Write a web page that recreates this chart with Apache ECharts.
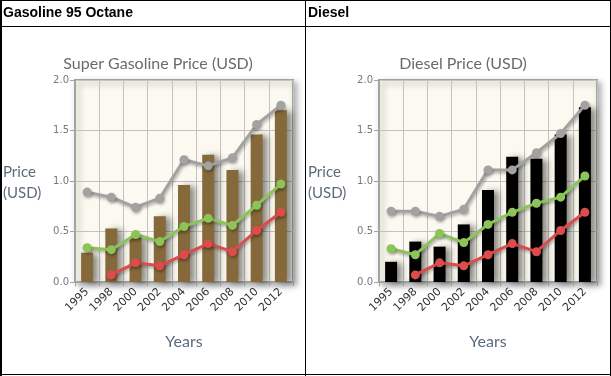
<!DOCTYPE html>
<html>
<head>
<meta charset="utf-8">
<script src="https://cdn.jsdelivr.net/npm/echarts@6/dist/echarts.min.js"></script>
<style>
  html, body { margin: 0; padding: 0; background: #fff; }
  #chart { width: 611px; height: 376px; }
</style>
</head>
<body>
<div id="chart"></div>
<script>
// categories and tick values
var years = ['1995', '1998', '2000', '2002', '2004', '2006', '2008', '2010', '2012'];

// gasoline panel
var gasBars  = [0.29, 0.53, 0.44, 0.65, 0.96, 1.26, 1.11, 1.46, 1.70];
var gasGray  = [0.89, 0.84, 0.74, 0.83, 1.21, 1.15, 1.23, 1.56, 1.75];
var gasGreen = [0.34, 0.32, 0.47, 0.40, 0.55, 0.63, 0.56, 0.76, 0.97];
var gasRed   = [null, 0.07, 0.19, 0.16, 0.27, 0.38, 0.30, 0.51, 0.69];

// diesel panel
var dieBars  = [0.20, 0.40, 0.35, 0.57, 0.91, 1.24, 1.22, 1.46, 1.73];
var dieGray  = [0.70, 0.70, 0.65, 0.72, 1.11, 1.11, 1.28, 1.47, 1.75];
var dieGreen = [0.33, 0.27, 0.48, 0.39, 0.57, 0.69, 0.78, 0.84, 1.05];
var dieRed   = [null, 0.07, 0.19, 0.16, 0.27, 0.38, 0.30, 0.51, 0.69];

var txtFont = 'Lato';

function gridCfg(left) {
  return {
    left: left, top: 80, width: 218, height: 202,
    show: true,
    backgroundColor: '#fcfaf0',
    borderColor: '#a3a3a3',
    borderWidth: 2,
    shadowColor: 'rgba(0,0,0,0.3)',
    shadowBlur: 6,
    shadowOffsetX: 3,
    shadowOffsetY: 3
  }
}

function xAxisCfg(idx) {
  return {
    type: 'category',
    gridIndex: idx,
    data: years,
    boundaryGap: true,
    name: 'Years',
    nameLocation: 'middle',
    nameGap: 52,
    nameTextStyle: { fontFamily: txtFont, fontSize: 16, color: '#5d6b7e' },
    axisLine: { show: true, lineStyle: { color: '#a3a3a3', width: 2 } },
    axisTick: { show: true, length: 4, lineStyle: { color: '#a3a3a3' } },
    axisLabel: { rotate: 45, margin: 8, fontFamily: 'DejaVu Sans', fontSize: 11, color: '#333' },
    splitLine: { show: true, lineStyle: { color: '#c2c2c2', width: 1 } }
  }
}

function yAxisCfg(idx) {
  return {
    type: 'value',
    gridIndex: idx,
    min: 0, max: 2, interval: 0.5,
    axisLine: { show: true, lineStyle: { color: '#a3a3a3', width: 2 } },
    axisTick: { show: true, length: 5, lineStyle: { color: '#a3a3a3' } },
    axisLabel: {
      margin: 6, fontFamily: 'DejaVu Sans', fontSize: 10, color: '#777',
      formatter: function (v) { return v.toFixed(1) }
    },
    splitLine: { show: true, lineStyle: { color: '#c2c2c2', width: 1 } }
  }
}

function barSeries(idx, data, color) {
  return {
    type: 'bar', xAxisIndex: idx, yAxisIndex: idx,
    data: data, barWidth: 12,
    itemStyle: {
      color: color,
      shadowColor: 'rgba(0,0,0,0.45)',
      shadowBlur: 6,
      shadowOffsetX: 5,
      shadowOffsetY: 1
    },
    z: 2
  }
}

function lineSeries(idx, data, color) {
  return {
    type: 'line', xAxisIndex: idx, yAxisIndex: idx,
    data: data,
    symbol: 'circle', symbolSize: 9,
    lineStyle: { color: color, width: 3, shadowColor: 'rgba(0,0,0,0.3)', shadowBlur: 3, shadowOffsetX: 1, shadowOffsetY: 2 },
    itemStyle: { color: color, shadowColor: 'rgba(0,0,0,0.3)', shadowBlur: 3, shadowOffsetX: 1, shadowOffsetY: 2 },
    z: 3
  }
}

var chart = echarts.init(document.getElementById('chart'));

var option = {
  backgroundColor: '#fff',
  animation: false,
  title: [
    { text: 'Super Gasoline Price (USD)', left: 153, top: 51, textAlign: 'center',
      textStyle: { fontFamily: txtFont, fontSize: 16, fontWeight: 'normal', color: '#6b6b6b' } },
    { text: 'Diesel Price (USD)', left: 458, top: 51, textAlign: 'center',
      textStyle: { fontFamily: txtFont, fontSize: 16, fontWeight: 'normal', color: '#6b6b6b' } }
  ],
  grid: [gridCfg(75), gridCfg(379)],
  xAxis: [xAxisCfg(0), xAxisCfg(1)],
  yAxis: [yAxisCfg(0), yAxisCfg(1)],
  series: [
    barSeries(0, gasBars, '#86693a'),
    lineSeries(0, gasGray, '#a2a2a2'),
    lineSeries(0, gasGreen, '#8cc45a'),
    lineSeries(0, gasRed, '#dc4c4c'),
    barSeries(1, dieBars, '#000'),
    lineSeries(1, dieGray, '#a2a2a2'),
    lineSeries(1, dieGreen, '#8cc45a'),
    lineSeries(1, dieRed, '#dc4c4c')
  ],
  graphic: [
    // table frame
    { type: 'line', shape: { x1: 0, y1: 0.5, x2: 611, y2: 0.5 }, style: { stroke: '#000', lineWidth: 1 } },
    { type: 'line', shape: { x1: 1, y1: 0, x2: 1, y2: 376 }, style: { stroke: '#000', lineWidth: 2 } },
    { type: 'line', shape: { x1: 610.5, y1: 0, x2: 610.5, y2: 376 }, style: { stroke: '#000', lineWidth: 1 } },
    { type: 'line', shape: { x1: 0, y1: 374.5, x2: 611, y2: 374.5 }, style: { stroke: '#000', lineWidth: 1 } },
    { type: 'line', shape: { x1: 0, y1: 26.5, x2: 611, y2: 26.5 }, style: { stroke: '#000', lineWidth: 1 } },
    { type: 'line', shape: { x1: 305.5, y1: 0, x2: 305.5, y2: 376 }, style: { stroke: '#000', lineWidth: 1 } },
    // header cells
    { type: 'text', left: 3, top: 6, style: { text: 'Gasoline 95 Octane', font: 'bold 14px "Liberation Sans", Arial', fill: '#000' } },
    { type: 'text', left: 308, top: 6, style: { text: 'Diesel', font: 'bold 14px "Liberation Sans", Arial', fill: '#000' } },
    // y axis names
    { type: 'text', left: 3, top: 162, style: { text: 'Price\n(USD)', font: '15px Lato', lineHeight: 21, fill: '#5d6b7e' } },
    { type: 'text', left: 308, top: 162, style: { text: 'Price\n(USD)', font: '15px Lato', lineHeight: 21, fill: '#5d6b7e' } }
  ]
};

chart.setOption(option);
</script>
</body>
</html>
